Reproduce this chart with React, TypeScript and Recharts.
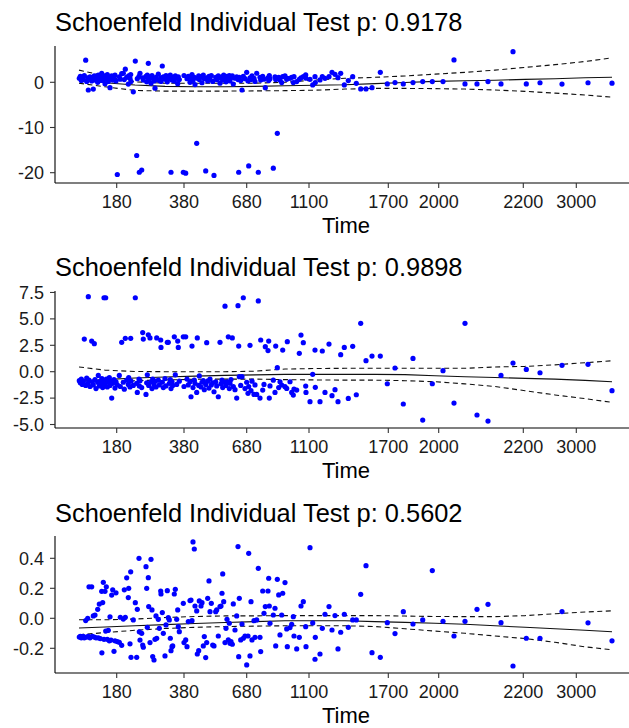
import React from 'react';
import { ComposedChart, Scatter, Line, XAxis, YAxis } from 'recharts';

// Transformed (KM-scaled) event time, shared by the three covariates
const eventTime: number[] = [
  24.3, 25.3, 26.3, 27.3, 28.3, 29.3, 30.7, 31.7, 32.7, 33.3, 34.0, 35.0, 36.7, 37.3, 38.3, 39.3, 40.0, 41.0, 42.7, 43.3,
  44.3, 45.3, 46.7, 46.9, 47.7, 48.3, 49.0, 50.0, 50.7, 51.3, 52.3, 53.3, 54.3, 55.0, 56.0, 56.7, 57.7, 59.0, 60.0, 61.0,
  62.3, 64.3, 65.3, 66.7, 68.3, 69.3, 70.3, 71.7, 73.3, 73.7, 75.0, 75.7, 76.0, 78.3, 80.3, 81.7, 82.3, 84.0, 84.3, 85.0,
  86.7, 87.7, 88.3, 91.0, 91.7, 92.3, 93.3, 93.7, 95.0, 96.0, 97.0, 97.7, 99.0, 100.0, 101.0, 101.7, 103.3, 104.3, 105.7, 106.0,
  107.3, 108.3, 110.0, 111.0, 112.3, 113.3, 114.3, 115.3, 116.0, 117.0, 117.7, 119.3, 120.3, 121.7, 122.7, 123.3, 124.3, 128.3, 129.0, 130.7,
  132.0, 133.3, 135.0, 136.0, 137.0, 138.0, 139.3, 140.0, 141.7, 142.3, 143.7, 144.3, 146.0, 147.0, 148.3, 149.3, 150.7, 151.7, 152.7, 154.0,
  155.0, 156.3, 157.7, 159.0, 160.7, 161.7, 163.3, 165.0, 166.0, 167.0, 167.7, 168.7, 170.0, 171.0, 172.0, 173.3, 174.3, 175.0, 176.0, 177.3,
  178.3, 180.0, 181.7, 183.0, 183.7, 184.3, 185.7, 187.0, 188.3, 190.0, 191.7, 193.0, 193.7, 195.0, 196.0, 197.0, 199.0, 200.0, 201.7, 203.3,
  205.0, 205.7, 207.7, 209.0, 210.3, 213.0, 213.7, 214.3, 215.0, 218.3, 220.0, 220.7, 222.3, 223.7, 225.0, 226.7, 227.7, 230.0, 231.7, 232.3,
  235.0, 236.7, 238.3, 239.0, 241.7, 244.3, 246.0, 248.3, 250.7, 251.0, 255.0, 257.7, 260.0, 260.3, 265.0, 267.3, 270.0, 274.0, 277.0, 280.0,
  283.0, 285.7, 289.3, 293.3, 297.7, 301.3, 305.7, 311.0, 317.0, 325.3, 332.3, 340.0, 348.3, 358.0, 367.7, 377.3, 388.0, 399.0, 410.0, 422.0,
  433.0, 446.0, 458.0, 471.3, 485.0, 507.0, 533.0, 557.0,
];

// Scaled Schoenfeld residuals, covariate 1
const residualsA: number[] = [
  0.9, 1.3, 0.4, 1.1, 0.6, 1.5, 4.9, 0.2, 1.0, -1.7, 0.7, 1.2, 0.3, 0.9, -1.5, 1.4, 0.5, 1.1, 0.0, 1.6,
  0.8, 1.2, 2.0, 0.4, 1.0, 1.5, 0.6, -0.3, 1.3, 0.9, 1.7, 0.2, 1.1, -1.2, 0.8, 1.4, 0.5, 1.0, 1.6, 0.3,
  -20.4, 1.2, 0.7, 1.9, 2.0, 0.6, 2.9, 1.1, -0.4, 1.4, 0.9, 1.7, 0.2, -2.1, 4.7, -16.2, 0.8, 1.3, -19.9, 2.0,
  -19.4, 1.0, 0.5, 1.3, 0.1, 1.6, 4.2, 0.7, 1.2, -0.2, 1.5, 0.9, 0.3, -1.3, 1.1, 0.6, 1.8, 0.4, 1.0, 0.2,
  3.6, 1.2, 0.7, 1.5, 0.1, 1.3, 0.8, 1.6, -19.9, 0.5, 1.1, 0.3, 1.4, 0.9, -0.3, 1.2, 0.6, -19.9, 1.5, -20.1,
  0.8, 1.3, 0.0, 1.0, 1.7, 0.4, 1.1, -0.5, -13.5, 0.9, 1.4, 0.6, 1.2, -0.1, 1.6, 0.8, -19.6, 1.0, 0.3, 1.3,
  0.7, 1.5, 0.2, -20.6, 1.1, 0.6, 1.4, -0.2, 0.9, 1.2, 0.5, 1.6, 0.8, 0.1, 1.3, 0.7, 1.5, 0.3, 1.0, 1.4,
  -0.4, 0.9, 1.2, 0.6, -19.9, 1.1, 0.4, -1.7, 1.3, 0.8, 2.2, 0.3, -18.5, 1.0, 0.6, 1.4, 0.9, 0.2, 2.0, -19.9,
  1.1, 0.5, 1.3, 0.7, -1.2, 1.0, 0.4, 1.5, 0.8, -19.0, 1.2, 0.6, -11.3, 1.1, 0.5, -0.07, 1.25, 1.4, 0.66, 0.9,
  0.88, 1.1, -0.07, 1.25, 0.15, 0.66, 1.0, 1.25, 1.62, 0.9, 0.66, -0.59, 1.25, -0.07, 0.52, 1.25, 0.88, 1.25, 2.2, 1.77,
  1.03, 1.99, -0.59, 0.37, 1.25, -0.22, -1.47, -1.47, -1.18, 2.2, -0.37, -0.07, -0.37, -0.07, 0.15, 0.15, 0.15, 4.94, -0.37, -0.37,
  0.15, -0.37, 6.78, -0.37, -0.1, -0.4, -0.1, -0.2,
];

// Scaled Schoenfeld residuals, covariate 2
const residualsB: number[] = [
  -0.85, -1.05, -0.7, -1.2, -0.9, 3.09, -1.3, -0.6, -1.1, 7.1, -0.8, -1.4, 2.9, -0.95, -1.25, 2.65, -0.75, -1.6, -1.0, -0.35,
  -1.35, -0.9, -1.15, -0.65, -1.5, -0.85, 7.0, -1.2, 7.0, -0.7, -1.45, -1.0, -0.55, -1.3, -0.9, -2.5, -1.1, -0.75, -1.55, -0.95,
  -1.25, -0.35, -1.4, 2.78, -1.0, -1.65, 3.16, -0.8, -1.2, -0.55, -1.45, 3.16, -0.9, -1.3, 7.0, -1.1, -1.96, -0.7, -1.35, -0.85,
  -1.5, 3.7, 3.09, -2.15, -1.05, -0.3, 3.5, -1.3, 3.2, -0.95, -1.6, -0.7, -1.2, -0.9, -1.45, 3.2, -0.8, -1.25, 3.0, 2.3,
  -1.0, -1.5, -0.65, -1.35, 2.78, 2.78, -1.1, -0.75, -1.6, -0.95, -1.3, 3.3, -0.3, -1.2, 2.9, 2.3, -0.9, 3.3, -1.4, 3.3,
  -0.7, -1.25, -0.95, -2.37, 2.43, -1.5, -0.8, -1.1, -1.96, 3.2, -1.3, -0.4, -1.45, -1.0, -0.85, -1.7, -1.2, 2.75, -0.9, -1.55,
  -0.7, -1.25, -1.05, -1.9, -0.95, -1.35, -2.37, 2.78, -1.15, -0.8, -1.5, -1.0, 6.2, -1.3, -0.95, 3.3, -1.6, -1.1, -0.75, 3.2,
  -1.4, -1.7, -2.5, 6.25, 2.43, -0.47, -1.3, -0.47, 7.0, -1.6, -1.0, -2.05, -1.4, 2.5, -1.8, -0.9, -2.15, -1.25, -2.15, 6.7,
  -2.5, 3.0, -1.74, -1.2, 2.37, 2.0, 2.9, -2.5, -1.35, -0.8, -1.96, 2.43, 0.38, -1.5, -0.95, -1.26, 2.05, -1.42, -1.58, 2.84,
  -0.95, -1.96, -2.21, -1.64, -1.74, 1.74, 3.47, 2.75, -1.36, -1.96, -2.84, -0.25, 2.05, -1.48, -2.84, 1.96, -1.96, 2.62, -2.27, -1.7,
  -2.84, 1.61, 2.3, -2.53, 2.4, -2.18, 4.58, 1.04, 1.48, 1.48, -1.14, 0.35, -3.06, 1.26, -4.58, -1.14, 0.1, -2.97, 4.58, -4.1,
  -4.67, -0.35, 0.82, 0.22, -0.1, 0.6, 0.7, -1.8,
];

// Scaled Schoenfeld residuals, covariate 3
const residualsC: number[] = [
  -0.125, -0.12, -0.13, -0.125, -0.12, -0.13, -0.015, -0.125, 0.0, -0.12, 0.21, -0.13, 0.21, -0.12, 0.016, -0.125, 0.022, -0.13, 0.06, -0.13,
  0.095, -0.135, 0.18, -0.23, 0.105, 0.24, -0.14, 0.18, -0.085, 0.21, -0.14, -0.08, -0.15, 0.01, -0.145, 0.155, 0.19, -0.22, -0.15, 0.17,
  -0.155, -0.16, 0.007, -0.18, -0.005, 0.19, 0.007, 0.27, 0.138, 0.2, -0.17, 0.31, -0.26, -0.011, 0.104, -0.26, 0.06, 0.4, -0.09, -0.145,
  -0.1, -0.178, -0.193, 0.344, 0.2, -0.06, 0.271, 0.078, -0.162, 0.393, 0.056, -0.255, -0.278, -0.14, 0.016, -0.133, -0.007, -0.067, 0.182, 0.162,
  0.038, -0.1, -0.251, -0.044, 0.184, 0.004, -0.011, -0.133, -0.216, -0.189, -0.184, 0.162, 0.193, -0.007, 0.056, -0.056, -0.089, 0.1, -0.162, -0.144,
  -0.189, -0.022, 0.118, 0.122, -0.016, 0.509, 0.462, 0.082, 0.049, -0.238, -0.216, 0.116, 0.082, 0.104, -0.184, -0.122, -0.262, -0.162, 0.133, 0.249,
  0.044, 0.1, -0.178, -0.184, 0.044, 0.056, -0.118, 0.078, 0.082, 0.167, 0.296, 0.111, -0.162, -0.067, -0.007, -0.144, -0.033, -0.167, -0.156, -0.173,
  0.096, -0.078, 0.016, 0.478, -0.256, 0.133, -0.144, -0.038, -0.133, -0.118, -0.311, -0.118, 0.433, -0.251, 0.111, -0.144, -0.016, -0.127, -0.011, 0.333,
  -0.127, -0.222, 0.182, 0.033, 0.078, 0.182, 0.267, 0.082, -0.033, 0.022, 0.067, -0.184, 0.26, 0.156, -0.111, 0.022, 0.167, 0.238, -0.071, -0.189,
  -0.062, -0.04, 0.011, -0.118, -0.204, -0.127, 0.082, 0.111, -0.056, -0.189, 0.471, -0.031, -0.273, -0.127, -0.238, -0.067, 0.027, 0.078, -0.078, 0.018,
  -0.204, -0.093, 0.027, -0.06, -0.011, -0.011, 0.16, 0.351, -0.229, -0.26, -0.029, -0.102, 0.044, -0.038, -0.011, 0.318, -0.02, -0.118, -0.02, 0.06,
  0.093, -0.029, -0.318, -0.133, -0.133, 0.045, -0.03, -0.15,
];

// Smoothed fit and confidence band, evaluated on a grid of transformed time
const fitGrid: number[] = [24, 50, 80, 110, 140, 170, 200, 230, 260, 290, 320, 350, 380, 410, 440, 470, 500, 530, 557];
const fitA: number[] = [0.6, -0.1, -0.6, -0.9, -1.0, -1.0, -0.9, -0.75, -0.65, -0.55, -0.3, -0.05, 0.2, 0.35, 0.45, 0.65, 0.8, 1.0, 1.1];
const upperA: number[] = [2.7, 1.4, 0.1, -0.2, -0.2, -0.2, -0.2, 0.0, 0.5, 0.9, 1.1, 1.4, 1.8, 2.2, 2.7, 3.3, 3.9, 4.6, 5.4];
const lowerA: number[] = [-0.2, -1.0, -1.8, -1.95, -1.95, -1.95, -1.9, -1.85, -1.75, -1.5, -1.35, -1.35, -1.4, -1.5, -1.7, -2.0, -2.4, -2.8, -3.3];
const fitB: number[] = [-0.9, -0.75, -0.6, -0.5, -0.42, -0.35, -0.3, -0.25, -0.25, -0.25, -0.25, -0.28, -0.38, -0.48, -0.55, -0.63, -0.7, -0.82, -0.95];
const upperB: number[] = [0.45, 0.15, 0.02, 0.0, 0.0, 0.0, 0.05, 0.25, 0.3, 0.32, 0.32, 0.32, 0.32, 0.32, 0.45, 0.5, 0.65, 0.85, 1.04];
const lowerB: number[] = [-1.05, -0.95, -0.85, -0.78, -0.72, -0.7, -0.7, -0.75, -0.78, -0.8, -0.8, -0.85, -0.95, -1.15, -1.4, -1.8, -2.2, -2.55, -2.9];
const fitC: number[] = [-0.065, -0.058, -0.05, -0.042, -0.035, -0.028, -0.022, -0.016, -0.016, -0.016, -0.022, -0.027, -0.033, -0.04, -0.05, -0.06, -0.07, -0.08, -0.09];
const upperC: number[] = [-0.01, -0.01, -0.005, 0.005, 0.012, 0.016, 0.016, 0.018, 0.018, 0.018, 0.018, 0.015, 0.012, 0.011, 0.011, 0.018, 0.03, 0.042, 0.05];
const lowerC: number[] = [-0.11, -0.095, -0.08, -0.068, -0.06, -0.055, -0.052, -0.05, -0.05, -0.05, -0.055, -0.07, -0.085, -0.1, -0.118, -0.135, -0.16, -0.19, -0.21];

// Time axis: tick positions on the transformed scale, and their labels (original time)
const timeTickPositions: number[] = [61.7, 129, 191.7, 254, 333.3, 383.7, 468.3, 521.3];
const timeTickLabels: string[] = ['180', '380', '680', '1100', '1700', '2000', '2200', '3000'];

const titles: string[] = [
  'Schoenfeld Individual Test p: 0.9178',
  'Schoenfeld Individual Test p: 0.9898',
  'Schoenfeld Individual Test p: 0.5602',
];
const yTicksA: number[] = [-20, -10, 0];
const yTicksB: number[] = [-5, -2.5, 0, 2.5, 5, 7.5];
const yTicksC: number[] = [-0.2, 0, 0.2, 0.4];

const FONT = '"Liberation Sans", Arial, Helvetica, sans-serif';
const PLOT_H = 137;
const CHART_W = 637;
const AXIS_H = 56;
const MARGIN_TOP = 16;

type PanelProps = {
  plotTop: number;
  residuals: number[];
  fit: number[];
  upper: number[];
  lower: number[];
  yDomain: [number, number];
  yTicks: number[];
  yFormat: (v: number) => string;
};

const Dot = (props: any) => {
  const { cx, cy } = props;
  if (cx == null || cy == null) return null;
  return <circle cx={cx} cy={cy} r={2.6} fill="#0000FF" />;
};

function Panel({ plotTop, residuals, fit, upper, lower, yDomain, yTicks, yFormat }: PanelProps) {
  const points = eventTime.map((t, i) => ({ t, r: residuals[i] }));
  const band = fitGrid.map((t, i) => ({ t, fit: fit[i], upper: upper[i], lower: lower[i] }));
  return (
    <div style={{ position: 'absolute', left: 0, top: plotTop - MARGIN_TOP }}>
      <ComposedChart
        width={CHART_W}
        height={MARGIN_TOP + PLOT_H + AXIS_H}
        margin={{ top: MARGIN_TOP, right: 0, bottom: 0, left: 0 }}
        data={band}
      >
        <XAxis
          type="number"
          dataKey="t"
          domain={[0, 582]}
          allowDataOverflow
          ticks={timeTickPositions}
          interval={0}
          tickFormatter={(v: number) => timeTickLabels[timeTickPositions.indexOf(v)] ?? ''}
          height={AXIS_H}
          tickSize={5}
          tickMargin={7}
          axisLine={{ stroke: '#000', strokeWidth: 1.1 }}
          tickLine={{ stroke: '#333', strokeWidth: 1.1 }}
          tick={{ fill: '#1a1a1a', fontSize: 18, fontFamily: FONT }}
          label={{ value: 'Time', position: 'insideBottom', offset: 6, fill: '#000', fontSize: 22, fontFamily: FONT }}
        />
        <YAxis
          type="number"
          domain={yDomain}
          allowDataOverflow
          ticks={yTicks}
          interval={0}
          tickFormatter={yFormat}
          width={55}
          tickSize={5}
          tickMargin={6}
          axisLine={{ stroke: '#000', strokeWidth: 1.1 }}
          tickLine={{ stroke: '#333', strokeWidth: 1.1 }}
          tick={{ fill: '#1a1a1a', fontSize: 18, fontFamily: FONT }}
        />
        <Scatter data={points} dataKey="r" shape={Dot} isAnimationActive={false} />
        <Line dataKey="fit" type="linear" stroke="#111" strokeWidth={1.1} dot={false} activeDot={false} isAnimationActive={false} />
        <Line dataKey="upper" type="linear" stroke="#111" strokeWidth={1.1} strokeDasharray="5 3.5" dot={false} activeDot={false} isAnimationActive={false} />
        <Line dataKey="lower" type="linear" stroke="#111" strokeWidth={1.1} strokeDasharray="5 3.5" dot={false} activeDot={false} isAnimationActive={false} />
      </ComposedChart>
    </div>
  );
}

export default function App() {
  return (
    <div style={{ position: 'absolute', left: 0, top: 0, width: 629, height: 728, overflow: 'hidden', background: '#fff' }}>
      <Panel
        plotTop={46}
        residuals={residualsA}
        fit={fitA}
        upper={upperA}
        lower={lowerA}
        yDomain={[-22.28, 8.03]}
        yTicks={yTicksA}
        yFormat={(v) => String(v)}
      />
      <Panel
        plotTop={291}
        residuals={residualsB}
        fit={fitB}
        upper={upperB}
        lower={lowerB}
        yDomain={[-5.33, 7.64]}
        yTicks={yTicksB}
        yFormat={(v) => v.toFixed(1)}
      />
      <Panel
        plotTop={536}
        residuals={residualsC}
        fit={fitC}
        upper={upperC}
        lower={lowerC}
        yDomain={[-0.3647, 0.5487]}
        yTicks={yTicksC}
        yFormat={(v) => v.toFixed(1)}
      />
      <svg width={629} height={728} style={{ position: 'absolute', left: 0, top: 0, pointerEvents: 'none' }}>
        <text x={55} y={31} fontSize={25.4} fontFamily={FONT} fill="#000">{titles[0]}</text>
        <text x={55} y={276} fontSize={25.4} fontFamily={FONT} fill="#000">{titles[1]}</text>
        <text x={55} y={522} fontSize={25.4} fontFamily={FONT} fill="#000">{titles[2]}</text>
      </svg>
    </div>
  );
}
